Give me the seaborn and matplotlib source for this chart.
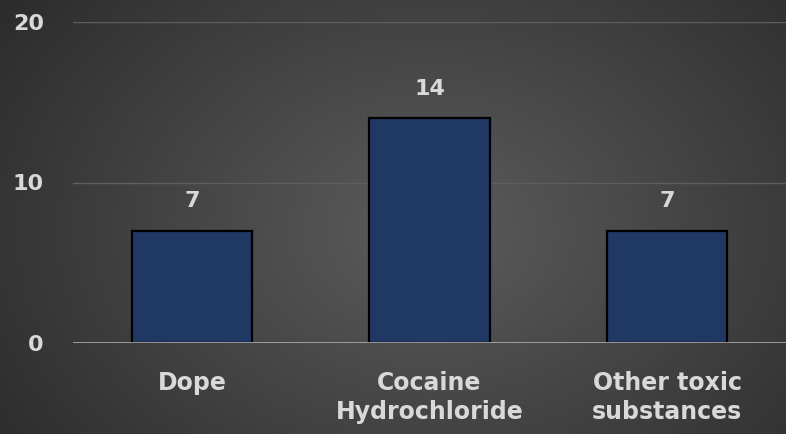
import matplotlib
matplotlib.use("Agg")
import matplotlib.pyplot as plt
import seaborn as sns
import numpy as np
import pandas as pd

# Chart data
categories = ["Dope", "Cocaine\nHydrochloride", "Other toxic\nsubstances"]
counts = [7, 14, 7]
y_ticks = [0, 10, 20]

df = pd.DataFrame({"category": categories, "count": counts})

sns.set_style("white")
plt.rcParams["font.family"] = ["DejaVu Sans"]

fig = plt.figure(figsize=(7.86, 4.34), dpi=100)

# radial gradient background
bg = fig.add_axes([0, 0, 1, 1])
yy, xx = np.mgrid[0:434, 0:786]
r = np.sqrt(((xx - 430) / 560) ** 2 + ((yy - 230) / 420) ** 2)
r = np.clip(r, 0, 1)
shade = 0.36 - 0.20 * r
bg.imshow(np.dstack([shade, shade, shade]), aspect="auto", extent=[0, 1, 0, 1])
bg.set_axis_off()

ax = fig.add_axes([73 / 786, 1 - 343 / 434, 1 - 73 / 786, (343 - 22) / 434])
ax.patch.set_alpha(0)

sns.barplot(data=df, x="category", y="count", color="#1f3864", width=0.505,
            edgecolor="black", linewidth=1.6, saturation=1, ax=ax, zorder=3)

ax.set_xlim(-0.5, 2.5)
ax.set_ylim(0, 20)
ax.set_yticks(y_ticks)
ax.yaxis.grid(True, color="#5e5e5e", linewidth=1.0, zorder=0)
ax.set_axisbelow(True)
for s in ax.spines.values():
    s.set_visible(False)
ax.axhline(0, color="#a6a6a6", linewidth=2, zorder=4)

ax.set_xlabel("")
ax.set_ylabel("")
ax.tick_params(axis="both", length=0, colors="#d9d9d9", labelsize=16)
ax.tick_params(axis="x", pad=20, labelsize=17)
ax.tick_params(axis="y", pad=21)
for lbl in ax.get_xticklabels() + ax.get_yticklabels():
    lbl.set_fontweight("bold")
    lbl.set_color("#d9d9d9")
for lbl in ax.get_xticklabels():
    lbl.set_linespacing(1.3)

for i, v in enumerate(counts):
    ax.annotate(str(v), (i, v), xytext=(0, 14), textcoords="offset points",
                ha="center", va="bottom", fontsize=16, fontweight="bold",
                color="#d9d9d9")

fig.savefig("out.png", dpi=100)
